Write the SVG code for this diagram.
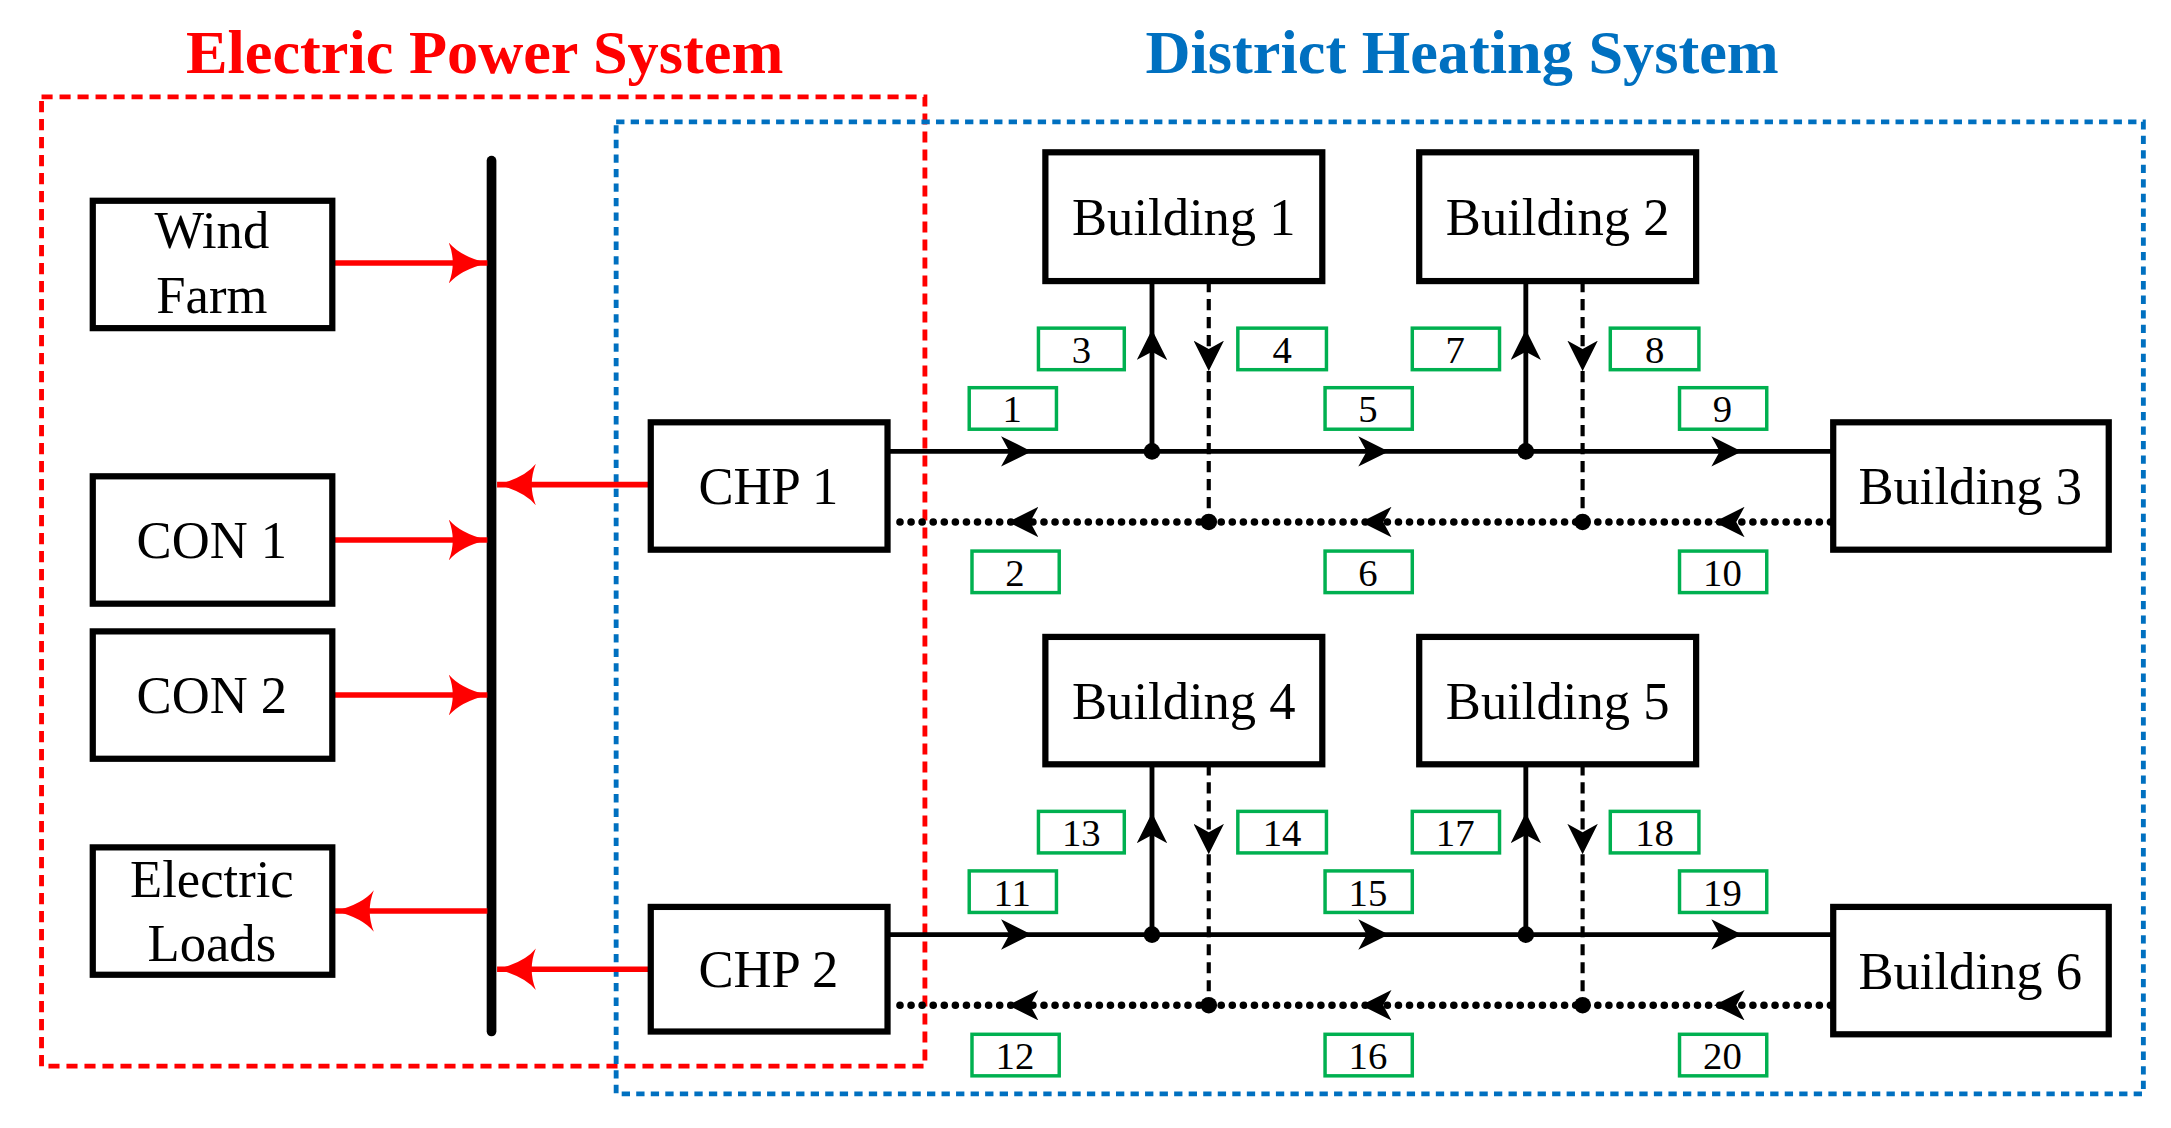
<svg xmlns="http://www.w3.org/2000/svg" width="2171" height="1128" viewBox="0 0 2171 1128">
<defs>
<style>
.box{fill:#fff;stroke:#000;stroke-width:4.5}
.t{font-family:"Liberation Serif",serif;font-size:38px;fill:#000;text-anchor:middle}
.lb{fill:#fff;stroke:#00b050;stroke-width:2.5}
.lt{font-family:"Liberation Serif",serif;font-size:28px;fill:#000;text-anchor:middle}
.red{stroke:#ff0000;stroke-width:4;fill:none}
.sup{stroke:#000;stroke-width:3.5;fill:none}
.ret{stroke:#000;stroke-width:5.5;fill:none;stroke-dasharray:0 8;stroke-linecap:round}
.dv{stroke:#000;stroke-width:3;fill:none;stroke-dasharray:8 5}
.mk{stroke:none;fill:none}
</style>
<marker id="ra" viewBox="0 0 28 30" refX="28" refY="15" markerWidth="28" markerHeight="30" orient="auto" markerUnits="userSpaceOnUse"><path d="M0,0 Q8,10 28,15 Q8,20 0,30 Q6,15 0,0 Z" fill="#ff0000"/></marker>
<marker id="ba" viewBox="0 0 22 22" refX="22" refY="11" markerWidth="22" markerHeight="22" orient="auto" markerUnits="userSpaceOnUse"><path d="M0,0 L22,11 L0,22 L6,11 Z" fill="#000"/></marker>
</defs>
<rect width="2171" height="1128" fill="#fff"/>
<g transform="scale(1.3846)">
<text x="350" y="53" font-family="Liberation Serif,serif" font-weight="bold" font-size="45" fill="#ff0000" text-anchor="middle">Electric Power System</text>
<text x="1056" y="53" font-family="Liberation Serif,serif" font-weight="bold" font-size="45" fill="#0070c0" text-anchor="middle">District Heating System</text>
<rect x="30" y="70" width="638" height="700" fill="none" stroke="#ff0000" stroke-width="3.5" stroke-dasharray="8 5"/>
<rect x="445" y="88" width="1103" height="702" fill="none" stroke="#0070c0" stroke-width="3.5" stroke-dasharray="6 4.5"/>

<g id="connectors">
<line x1="355" y1="116" x2="355" y2="745" stroke="#000" stroke-width="7" stroke-linecap="round"/>
<line class="red" x1="240" y1="190" x2="352" y2="190" marker-end="url(#ra)"/>
<line class="red" x1="240" y1="390" x2="352" y2="390" marker-end="url(#ra)"/>
<line class="red" x1="240" y1="502" x2="352" y2="502" marker-end="url(#ra)"/>
<line class="red" x1="352" y1="658" x2="242" y2="658" marker-end="url(#ra)"/>
<line class="red" x1="468" y1="350" x2="359" y2="350" marker-end="url(#ra)"/>
<line class="red" x1="468" y1="700" x2="359" y2="700" marker-end="url(#ra)"/>
<g id="net1">
<path class="sup" d="M641,326 H1324"/>
<path class="mk" d="M700,326 H745" marker-end="url(#ba)"/>
<path class="mk" d="M960,326 H1003" marker-end="url(#ba)"/>
<path class="mk" d="M1215,326 H1258" marker-end="url(#ba)"/>
<path class="ret" d="M1322,377 H645"/>
<path class="mk" d="M770,377 H728" marker-end="url(#ba)"/>
<path class="mk" d="M1025,377 H983" marker-end="url(#ba)"/>
<path class="mk" d="M1280,377 H1238" marker-end="url(#ba)"/>
<path class="sup" d="M832,203 V326 M1102,203 V326"/>
<path class="dv" d="M873,203 V377 M1143,203 V377"/>
<path class="mk" d="M832,280 V238" marker-end="url(#ba)"/>
<path class="mk" d="M1102,280 V238" marker-end="url(#ba)"/>
<path class="mk" d="M873,230 V268" marker-end="url(#ba)"/>
<path class="mk" d="M1143,230 V268" marker-end="url(#ba)"/>
<circle cx="832" cy="326" r="6"/><circle cx="1102" cy="326" r="6"/>
<circle cx="873" cy="377" r="6"/><circle cx="1143" cy="377" r="6"/>
</g>
<g id="net2" transform="translate(0,349)">
<path class="sup" d="M641,326 H1324"/>
<path class="mk" d="M700,326 H745" marker-end="url(#ba)"/>
<path class="mk" d="M960,326 H1003" marker-end="url(#ba)"/>
<path class="mk" d="M1215,326 H1258" marker-end="url(#ba)"/>
<path class="ret" d="M1322,377 H645"/>
<path class="mk" d="M770,377 H728" marker-end="url(#ba)"/>
<path class="mk" d="M1025,377 H983" marker-end="url(#ba)"/>
<path class="mk" d="M1280,377 H1238" marker-end="url(#ba)"/>
<path class="sup" d="M832,203 V326 M1102,203 V326"/>
<path class="dv" d="M873,203 V377 M1143,203 V377"/>
<path class="mk" d="M832,280 V238" marker-end="url(#ba)"/>
<path class="mk" d="M1102,280 V238" marker-end="url(#ba)"/>
<path class="mk" d="M873,230 V268" marker-end="url(#ba)"/>
<path class="mk" d="M1143,230 V268" marker-end="url(#ba)"/>
<circle cx="832" cy="326" r="6"/><circle cx="1102" cy="326" r="6"/>
<circle cx="873" cy="377" r="6"/><circle cx="1143" cy="377" r="6"/>
</g>
</g>

<g id="wind"><rect class="box" x="67" y="145" width="173" height="92"/><text class="t" x="153" y="179">Wind</text><text class="t" x="153" y="226">Farm</text></g>
<g id="con1"><rect class="box" x="67" y="344" width="173" height="92"/><text class="t" x="153" y="403">CON 1</text></g>
<g id="con2"><rect class="box" x="67" y="456" width="173" height="92"/><text class="t" x="153" y="515">CON 2</text></g>
<g id="loads"><rect class="box" x="67" y="612" width="173" height="92"/><text class="t" x="153" y="648">Electric</text><text class="t" x="153" y="694">Loads</text></g>
<g id="chp1"><rect class="box" x="470" y="305" width="171" height="92"/><text class="t" x="555" y="364">CHP 1</text></g>
<g id="chp2"><rect class="box" x="470" y="655" width="171" height="90"/><text class="t" x="555" y="713">CHP 2</text></g>
<g id="b1"><rect class="box" x="755" y="110" width="200" height="93"/><text class="t" x="855" y="170">Building 1</text></g>
<g id="b2"><rect class="box" x="1025" y="110" width="200" height="93"/><text class="t" x="1125" y="170">Building 2</text></g>
<g id="b3"><rect class="box" x="1324" y="305" width="199" height="92"/><text class="t" x="1423" y="364">Building 3</text></g>
<g id="b4"><rect class="box" x="755" y="460" width="200" height="92"/><text class="t" x="855" y="519">Building 4</text></g>
<g id="b5"><rect class="box" x="1025" y="460" width="200" height="92"/><text class="t" x="1125" y="519">Building 5</text></g>
<g id="b6"><rect class="box" x="1324" y="655" width="199" height="92"/><text class="t" x="1423" y="714">Building 6</text></g>

<g id="labels">
<g id="l3"><rect class="lb" x="750" y="237" width="62" height="30"/><text class="lt" x="781" y="262">3</text></g>
<g id="l4"><rect class="lb" x="894" y="237" width="64" height="30"/><text class="lt" x="926" y="262">4</text></g>
<g id="l7"><rect class="lb" x="1020" y="237" width="63" height="30"/><text class="lt" x="1051" y="262">7</text></g>
<g id="l8"><rect class="lb" x="1163" y="237" width="64" height="30"/><text class="lt" x="1195" y="262">8</text></g>
<g id="l1"><rect class="lb" x="700" y="280" width="63" height="30"/><text class="lt" x="731" y="305">1</text></g>
<g id="l5"><rect class="lb" x="957" y="280" width="63" height="30"/><text class="lt" x="988" y="305">5</text></g>
<g id="l9"><rect class="lb" x="1213" y="280" width="63" height="30"/><text class="lt" x="1244" y="305">9</text></g>
<g id="l2"><rect class="lb" x="702" y="398" width="63" height="30"/><text class="lt" x="733" y="423">2</text></g>
<g id="l6"><rect class="lb" x="957" y="398" width="63" height="30"/><text class="lt" x="988" y="423">6</text></g>
<g id="l10"><rect class="lb" x="1213" y="398" width="63" height="30"/><text class="lt" x="1244" y="423">10</text></g>
<g id="l13"><rect class="lb" x="750" y="586" width="62" height="30"/><text class="lt" x="781" y="611">13</text></g>
<g id="l14"><rect class="lb" x="894" y="586" width="64" height="30"/><text class="lt" x="926" y="611">14</text></g>
<g id="l17"><rect class="lb" x="1020" y="586" width="63" height="30"/><text class="lt" x="1051" y="611">17</text></g>
<g id="l18"><rect class="lb" x="1163" y="586" width="64" height="30"/><text class="lt" x="1195" y="611">18</text></g>
<g id="l11"><rect class="lb" x="700" y="629" width="63" height="30"/><text class="lt" x="731" y="654">11</text></g>
<g id="l15"><rect class="lb" x="957" y="629" width="63" height="30"/><text class="lt" x="988" y="654">15</text></g>
<g id="l19"><rect class="lb" x="1213" y="629" width="63" height="30"/><text class="lt" x="1244" y="654">19</text></g>
<g id="l12"><rect class="lb" x="702" y="747" width="63" height="30"/><text class="lt" x="733" y="772">12</text></g>
<g id="l16"><rect class="lb" x="957" y="747" width="63" height="30"/><text class="lt" x="988" y="772">16</text></g>
<g id="l20"><rect class="lb" x="1213" y="747" width="63" height="30"/><text class="lt" x="1244" y="772">20</text></g>
</g>
</g>
</svg>
